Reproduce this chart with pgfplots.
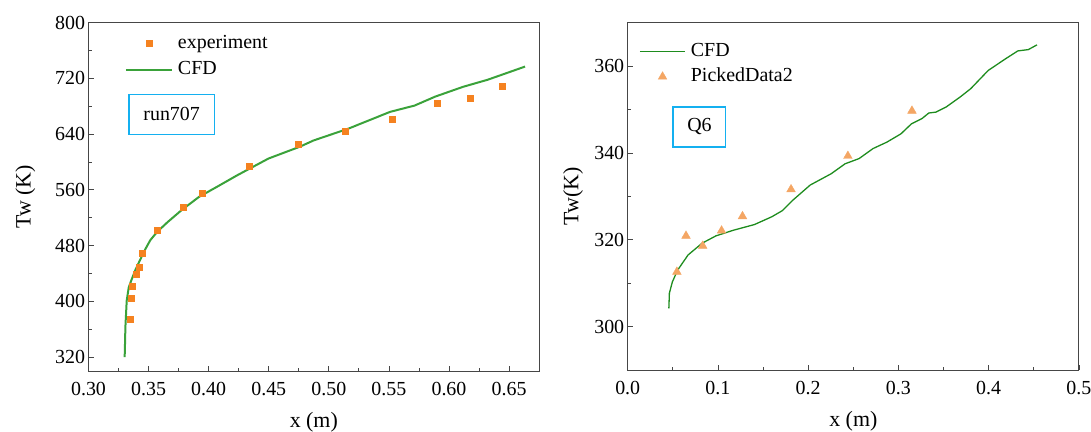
\documentclass[border=0pt]{standalone}
\usepackage{fontspec}
\setmainfont{Liberation Serif}
\usepackage{pgfplots}
\pgfplotsset{compat=1.18}
\definecolor{axgray}{RGB}{70,70,70}
\definecolor{sqorange}{RGB}{245,130,32}
\definecolor{lgreen}{RGB}{58,162,58}
\definecolor{dgreen}{RGB}{30,140,30}
\definecolor{triorange}{RGB}{244,166,100}
\definecolor{boxblue}{RGB}{20,176,240}
\pgfplotsset{
  myax/.style={
    scale only axis,
    axis line style={draw=axgray, line width=1bp},
    tick pos=left, tick align=inside,
    major tick length=5bp, minor tick length=3bp,
    every tick/.style={axgray, line width=0.8bp},
    tick label style={font=\fontsize{20}{24}\selectfont},
    /pgf/number format/assume math mode=true,
    label style={font=\fontsize{22}{26}\selectfont},
    xticklabel style={yshift=-8bp},
    legend style={draw=none, fill=none, inner sep=0pt, outer sep=0pt,
      font=\fontsize{20}{24}\selectfont, row sep=12bp,
      nodes={inner sep=0pt, anchor=base west}},
    legend cell align=left,
  },
  linelegA/.style={legend image code/.code={\draw[##1] (0bp,5bp) -- (46bp,5bp);}},
  linelegB/.style={legend image code/.code={\draw[##1] (0bp,5bp) -- (45.4bp,5bp);}},
  marklegA/.style={legend image code/.code={\pgfpathrectangle{\pgfpoint{0bp}{4bp}}{\pgfpoint{46bp}{2bp}}\pgfusepath{use as bounding box}\draw[##1] plot coordinates {(23bp,5bp)};}},
  marklegB/.style={legend image code/.code={\pgfpathrectangle{\pgfpoint{0bp}{4bp}}{\pgfpoint{45.4bp}{2bp}}\pgfusepath{use as bounding box}\draw[##1] plot coordinates {(22.7bp,5bp)};}},
}
\begin{document}
\begin{tikzpicture}
\path[use as bounding box] (0bp,0bp) rectangle (1091bp,432bp);
% ---------------- left
\begin{axis}[myax,
  at={(88.5bp,61bp)}, anchor=south west,
  width=450.6bp, height=348.3bp,
  xmin=0.30, xmax=0.675, ymin=300, ymax=800,
  xtick={0.30,0.35,...,0.66}, ytick={320,400,...,800},
  minor x tick num=1, minor y tick num=1,
  xticklabel style={/pgf/number format/.cd, fixed, fixed zerofill, precision=2},
  xlabel={x (m)}, ylabel={Tw (K)},
  xlabel style={at={(axis description cs:0.5,-0.146)}, anchor=center},
  ylabel style={at={(axis description cs:-0.140,0.5)}, anchor=center},
  legend style={at={(axis description cs:0.081,0.965)}, anchor=north west, column sep=5bp},
]
\addplot[only marks, mark=square*, mark size=3bp, color=sqorange, marklegA]
coordinates {
(0.3344,374) (0.3359,404) (0.3362,421.6) (0.3393,438.3) (0.3420,449.3) (0.3448,468.5)
(0.3570,502) (0.3787,535.1) (0.3949,554.7) (0.4334,594.5) (0.4744,625.6) (0.5140,644.8)
(0.5528,661.1) (0.5898,685) (0.6173,691.7) (0.6445,709.5)
};
\addlegendentry{experiment}
\addplot[color=lgreen, line width=2bp, no marks, linelegA]
coordinates {
(0.3301,320) (0.3304,340) (0.3307,363) (0.3318,401) (0.3335,420) (0.3356,430)
(0.3390,445) (0.3428,459) (0.3470,474) (0.3515,488) (0.3573,500) (0.3660,514)
(0.3775,531) (0.3920,550) (0.4065,564) (0.4238,581) (0.4498,605) (0.4759,622)
(0.4874,631) (0.5164,648) (0.5308,658) (0.5510,672) (0.5713,681) (0.5887,694)
(0.6118,708) (0.6320,718) (0.6633,737)
};
\addlegendentry{CFD}
\node[draw=boxblue, line width=1.5bp, minimum width=85.5bp, minimum height=40bp,
  font=\fontsize{20}{24}\selectfont, inner sep=0pt]
  at (rel axis cs:0.1845,0.737) {run707};
\end{axis}
% ---------------- right
\begin{axis}[myax,
  at={(627.7bp,62bp)}, anchor=south west,
  width=451.2bp, height=347.3bp,
  xmin=0, xmax=0.5, ymin=290, ymax=370,
  xtick={0,0.1,...,0.51}, ytick={300,320,340,360},
  minor x tick num=1, minor y tick num=1,
  xticklabel style={/pgf/number format/.cd, fixed, fixed zerofill, precision=1},
  xlabel={x (m)}, ylabel={Tw(K)},
  xlabel style={at={(axis description cs:0.5,-0.147)}, anchor=center},
  ylabel style={at={(axis description cs:-0.121,0.5)}, anchor=center},
  legend style={at={(axis description cs:0.0255,0.941)}, anchor=north west, column sep=5bp, row sep=10bp},
]
\addplot[color=dgreen, line width=1.3bp, no marks, linelegB]
coordinates {
(0.0456,304.2) (0.0462,307.7) (0.0495,310.3) (0.0553,313) (0.0669,316.5) (0.0824,319.2)
(0.0978,320.9) (0.1172,322.2) (0.1404,323.5) (0.1597,325.3) (0.1713,326.7) (0.1829,329.1)
(0.2022,332.6) (0.2254,335.2) (0.2409,337.5) (0.2564,338.7) (0.2718,341) (0.2873,342.5)
(0.3028,344.4) (0.3144,346.7) (0.3260,347.9) (0.3337,349.2) (0.3414,349.4) (0.3530,350.6)
(0.3685,352.9) (0.3801,354.8) (0.3995,359) (0.4188,361.7) (0.4323,363.5) (0.4439,363.8)
(0.4536,364.9)
};
\addlegendentry{CFD}
\addplot[only marks, mark=triangle*, mark size=5bp, color=triorange, marklegB]
coordinates {
(0.0545,312.6) (0.0646,320.9) (0.0831,318.6) (0.1040,322.1) (0.1272,325.4)
(0.1810,331.6) (0.2440,339.3) (0.3150,349.7)
};
\addlegendentry{PickedData2}
\node[draw=boxblue, line width=1.5bp, minimum width=52.6bp, minimum height=40bp,
  font=\fontsize{20}{24}\selectfont, inner sep=0pt]
  at (rel axis cs:0.159,0.700) {Q6};
\end{axis}
\end{tikzpicture}
\end{document}
